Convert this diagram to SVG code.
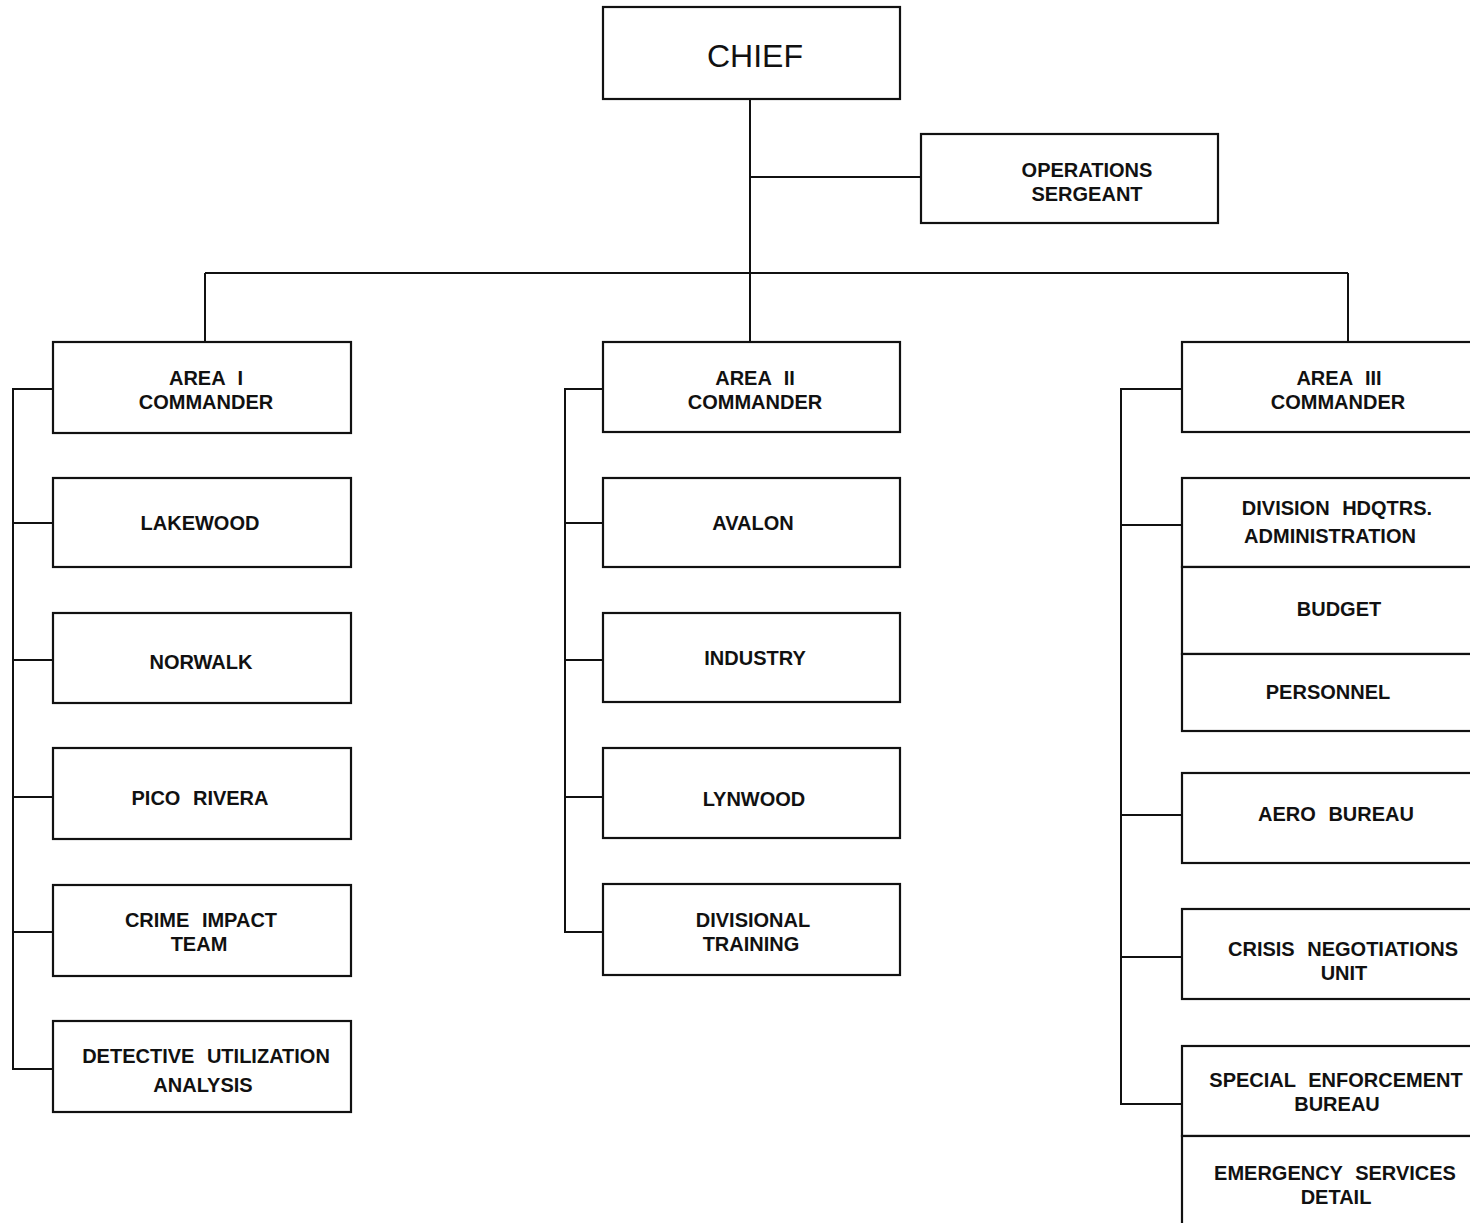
<svg xmlns="http://www.w3.org/2000/svg" width="1470" height="1223" viewBox="0 0 1470 1223">
<style>
.box{fill:#fff;stroke:#111;stroke-width:2.2}
.ln{fill:none;stroke:#111;stroke-width:2}
text{font-family:"Liberation Sans",Arial,sans-serif;font-size:20px;font-weight:bold;fill:#111;text-anchor:middle;word-spacing:7px}
.big{font-size:32px;font-weight:normal}
</style>
<rect width="1470" height="1223" fill="#fff"/>
<g id="connectors">
<path class="ln" d="M750 99 V342 M750 177 H921 M205 273 H1348 M205 273 V342 M1348 273 V342"/>
<path class="ln" d="M53 389 H13 V1069 H53 M13 523 H53 M13 660 H53 M13 797 H53 M13 932 H53"/>
<path class="ln" d="M603 389 H565 V932 H603 M565 523 H603 M565 660 H603 M565 797 H603"/>
<path class="ln" d="M1182 389 H1121 V1104 H1182 M1121 525 H1182 M1121 815 H1182 M1121 957 H1182"/>
</g>
<g id="chief"><rect class="box" x="603" y="7" width="297" height="92"/><text class="big" x="755" y="67">CHIEF</text></g>
<g id="ops-sergeant"><rect class="box" x="921" y="134" width="297" height="89"/><text x="1087" y="177">OPERATIONS</text><text x="1087" y="201">SERGEANT</text></g>
<g id="area1"><rect class="box" x="53" y="342" width="298" height="91"/><text x="206" y="385">AREA I</text><text x="206" y="409">COMMANDER</text></g>
<g id="lakewood"><rect class="box" x="53" y="478" width="298" height="89"/><text x="200" y="530">LAKEWOOD</text></g>
<g id="norwalk"><rect class="box" x="53" y="613" width="298" height="90"/><text x="201" y="669">NORWALK</text></g>
<g id="pico-rivera"><rect class="box" x="53" y="748" width="298" height="91"/><text x="200" y="805">PICO RIVERA</text></g>
<g id="crime-impact"><rect class="box" x="53" y="885" width="298" height="91"/><text x="201" y="927">CRIME IMPACT</text><text x="199" y="951">TEAM</text></g>
<g id="detective"><rect class="box" x="53" y="1021" width="298" height="91"/><text x="206" y="1063">DETECTIVE UTILIZATION</text><text x="203" y="1092">ANALYSIS</text></g>
<g id="area2"><rect class="box" x="603" y="342" width="297" height="90"/><text x="755" y="385">AREA II</text><text x="755" y="409">COMMANDER</text></g>
<g id="avalon"><rect class="box" x="603" y="478" width="297" height="89"/><text x="753" y="530">AVALON</text></g>
<g id="industry"><rect class="box" x="603" y="613" width="297" height="89"/><text x="755" y="665">INDUSTRY</text></g>
<g id="lynwood"><rect class="box" x="603" y="748" width="297" height="90"/><text x="754" y="806">LYNWOOD</text></g>
<g id="div-training"><rect class="box" x="603" y="884" width="297" height="91"/><text x="753" y="927">DIVISIONAL</text><text x="751" y="951">TRAINING</text></g>
<g id="area3"><rect class="box" x="1182" y="342" width="300" height="90"/><text x="1339" y="385">AREA III</text><text x="1338" y="409">COMMANDER</text></g>
<g id="div-hq"><rect class="box" x="1182" y="478" width="300" height="89"/><text x="1337" y="515">DIVISION HDQTRS.</text><text x="1330" y="543">ADMINISTRATION</text></g>
<g id="budget"><rect class="box" x="1182" y="567" width="300" height="87"/><text x="1339" y="616">BUDGET</text></g>
<g id="personnel"><rect class="box" x="1182" y="654" width="300" height="77"/><text x="1328" y="699">PERSONNEL</text></g>
<g id="aero"><rect class="box" x="1182" y="773" width="300" height="90"/><text x="1336" y="821">AERO BUREAU</text></g>
<g id="crisis"><rect class="box" x="1182" y="909" width="300" height="90"/><text x="1343" y="956">CRISIS NEGOTIATIONS</text><text x="1344" y="980">UNIT</text></g>
<g id="special"><rect class="box" x="1182" y="1046" width="300" height="90"/><text x="1336" y="1087">SPECIAL ENFORCEMENT</text><text x="1337" y="1111">BUREAU</text></g>
<g id="emergency"><rect class="box" x="1182" y="1136" width="300" height="100"/><text x="1335" y="1180">EMERGENCY SERVICES</text><text x="1336" y="1204">DETAIL</text></g>
</svg>
